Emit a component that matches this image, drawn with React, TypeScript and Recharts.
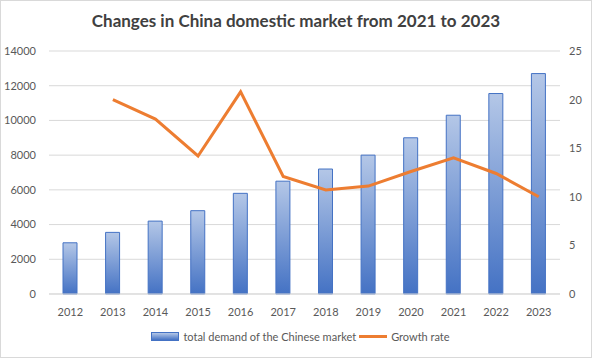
import React from 'react';
import {
  ComposedChart,
  Bar,
  Line,
  XAxis,
  YAxis,
  CartesianGrid,
  Legend,
} from 'recharts';

const years = ['2012', '2013', '2014', '2015', '2016', '2017', '2018', '2019', '2020', '2021', '2022', '2023'];
const totalDemand = [2950, 3550, 4200, 4800, 5800, 6500, 7200, 8000, 9000, 10300, 11550, 12700];
const growthRate = [null, 20, 18, 14.2, 20.8, 12.1, 10.7, 11.1, 12.6, 14, 12.4, 10];
const leftTicks = [0, 2000, 4000, 6000, 8000, 10000, 12000, 14000];
const rightTicks = [0, 5, 10, 15, 20, 25];

const data = years.map((y, i) => ({ year: y, demand: totalDemand[i], growth: growthRate[i] }));

const FONT = 'Lato, "Liberation Sans", sans-serif';
const tickStyle = { fontSize: 11, fill: '#595959', fontFamily: FONT };

const LegendContent = () => (
  <div style={{ display: 'flex', justifyContent: 'center', alignItems: 'center', paddingTop: 6, fontFamily: FONT, fontSize: 11, color: '#595959' }}>
    <span style={{ display: 'inline-block', width: 26, height: 7, border: '1px solid #4472c4', background: 'linear-gradient(#b4c7e7, #4472c4)', marginRight: 4 }} />
    <span>total demand of the Chinese market</span>
    <span style={{ display: 'inline-block', width: 28, height: 3, background: '#ed7d31', margin: '0 4px 0 3px' }} />
    <span>Growth rate</span>
  </div>
);

const App: React.FC = () => {
  return (
    <div style={{ position: 'absolute', left: 0, top: 0, width: 592, height: 358, background: '#fff' }}>
      <div style={{ position: 'absolute', left: 0, top: 0, width: 590, height: 356, border: '1px solid #d9d9d9' }} />
      <div style={{ position: 'absolute', top: 10, left: 0, width: 592, textAlign: 'center', fontFamily: FONT, fontWeight: 'bold', fontSize: 17, color: '#404040' }}>
        Changes in China domestic market from 2021 to 2023
      </div>
      <ComposedChart width={592} height={358} data={data} margin={{ top: 51, right: 0, left: 9, bottom: 10 }}>
        <defs>
          <linearGradient id="barGrad" x1="0" y1="0" x2="0" y2="1">
            <stop offset="0%" stopColor="#b4c7e7" />
            <stop offset="100%" stopColor="#4472c4" />
          </linearGradient>
        </defs>
        <CartesianGrid vertical={false} stroke="#d9d9d9" yAxisId="left" />
        <XAxis
          dataKey="year"
          height={30}
          tick={tickStyle}
          tickLine={false}
          axisLine={{ stroke: '#d9d9d9' }}
          tickMargin={8}
        />
        <YAxis
          yAxisId="left"
          width={40}
          domain={[0, 14000]}
          ticks={leftTicks}
          tick={tickStyle}
          tickLine={false}
          axisLine={false}
          tickMargin={7}
          interval={0}
        />
        <YAxis
          yAxisId="right"
          orientation="right"
          width={32}
          domain={[0, 25]}
          ticks={rightTicks}
          tick={{ ...tickStyle, textAnchor: 'start' }}
          tickLine={false}
          axisLine={false}
          tickMargin={3}
          interval={0}
        />
        <Legend verticalAlign="bottom" height={24} content={<LegendContent />} />
        <Bar
          yAxisId="left"
          dataKey="demand"
          name="total demand of the Chinese market"
          fill="url(#barGrad)"
          stroke="#4472c4"
          strokeWidth={1}
          barSize={14}
          isAnimationActive={false}
        />
        <Line
          yAxisId="right"
          dataKey="growth"
          name="Growth rate"
          type="linear"
          stroke="#ed7d31"
          strokeWidth={3}
          dot={false}
          activeDot={false}
          isAnimationActive={false}
        />
      </ComposedChart>
    </div>
  );
};

export default App;
